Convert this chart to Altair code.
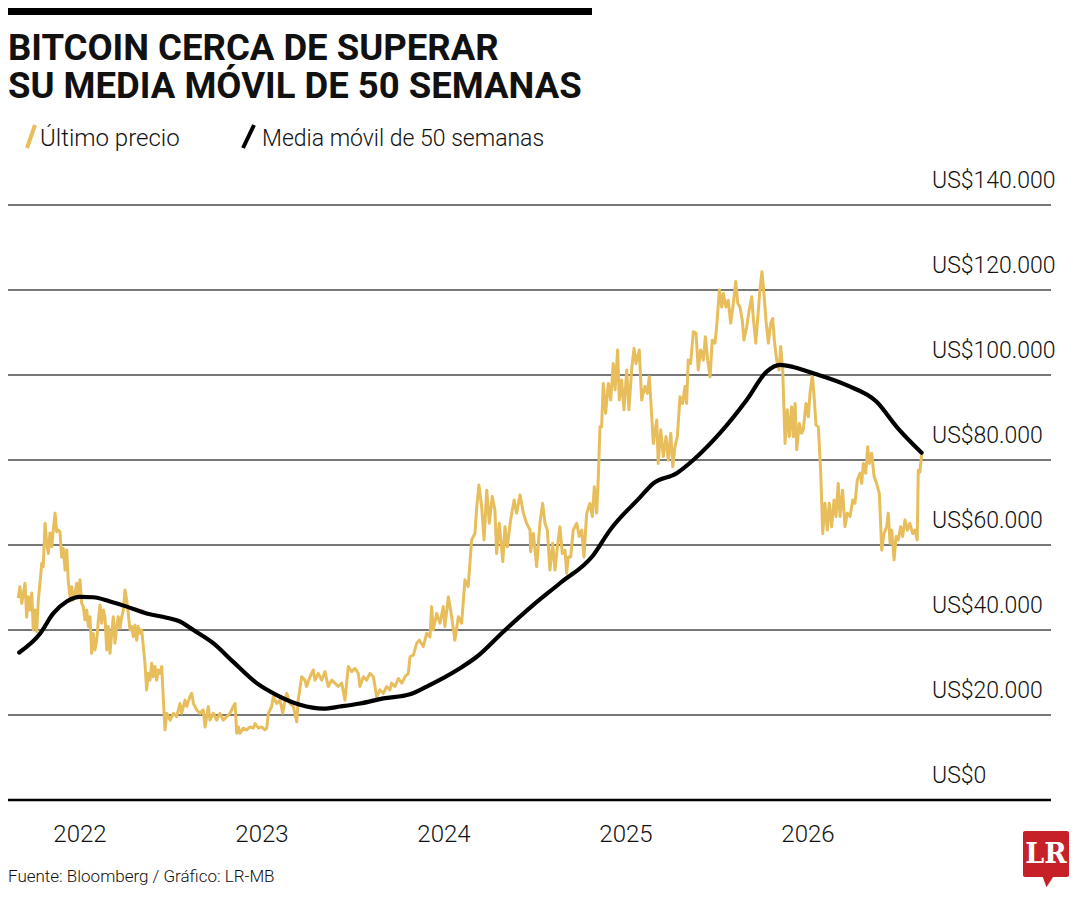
import altair as alt
import pandas as pd

# ---------------- data (decimal year, thousands of US$) ----------------
price_t = [
    2021.661, 2021.670, 2021.680, 2021.698, 2021.707, 2021.716, 2021.725, 2021.735, 2021.743,
    2021.753, 2021.762, 2021.771, 2021.780, 2021.790, 2021.798, 2021.808, 2021.817, 2021.826, 2021.835,
    2021.845, 2021.853, 2021.863, 2021.872, 2021.881, 2021.890, 2021.899, 2021.908, 2021.918, 2021.927,
    2021.936, 2021.945, 2021.954, 2021.963, 2021.973, 2021.982, 2021.991, 2022.000, 2022.009, 2022.018,
    2022.027, 2022.037, 2022.046, 2022.055, 2022.064, 2022.073, 2022.082, 2022.092, 2022.101, 2022.110,
    2022.119, 2022.128, 2022.137, 2022.147, 2022.155, 2022.165, 2022.174, 2022.183, 2022.192, 2022.202,
    2022.210, 2022.220, 2022.229, 2022.238, 2022.247, 2022.257, 2022.265, 2022.275, 2022.284, 2022.293,
    2022.302, 2022.312, 2022.320, 2022.330, 2022.339, 2022.348, 2022.357, 2022.366, 2022.375, 2022.385,
    2022.394, 2022.403, 2022.412, 2022.421, 2022.430, 2022.440, 2022.449, 2022.458, 2022.467, 2022.476,
    2022.495, 2022.513, 2022.531, 2022.549, 2022.558, 2022.577, 2022.586, 2022.604, 2022.614, 2022.623,
    2022.641, 2022.659, 2022.677, 2022.687, 2022.705, 2022.714, 2022.732, 2022.751, 2022.769, 2022.787,
    2022.806, 2022.824, 2022.842, 2022.852, 2022.861, 2022.870, 2022.879, 2022.897, 2022.916, 2022.934,
    2022.952, 2022.962, 2022.980, 2022.998, 2023.016, 2023.026, 2023.035, 2023.053, 2023.062, 2023.081,
    2023.099, 2023.114, 2023.126, 2023.136, 2023.154, 2023.172, 2023.191, 2023.199, 2023.218, 2023.236,
    2023.245, 2023.264, 2023.282, 2023.291, 2023.309, 2023.328, 2023.346, 2023.364, 2023.383, 2023.401,
    2023.419, 2023.438, 2023.456, 2023.474, 2023.493, 2023.511, 2023.529, 2023.538, 2023.557, 2023.575,
    2023.593, 2023.612, 2023.621, 2023.630, 2023.648, 2023.666, 2023.685, 2023.703, 2023.712, 2023.731,
    2023.749, 2023.768, 2023.786, 2023.804, 2023.813, 2023.832, 2023.850, 2023.864, 2023.886, 2023.905,
    2023.923, 2023.932, 2023.941, 2023.960, 2023.978, 2023.996, 2024.005, 2024.024, 2024.042, 2024.060,
    2024.079, 2024.097, 2024.115, 2024.133, 2024.152, 2024.170, 2024.180, 2024.192, 2024.207, 2024.220,
    2024.235, 2024.249, 2024.265, 2024.280, 2024.289, 2024.304, 2024.323, 2024.335, 2024.348, 2024.366,
    2024.385, 2024.399, 2024.418, 2024.436, 2024.454, 2024.473, 2024.476, 2024.491, 2024.509, 2024.527,
    2024.542, 2024.555, 2024.568, 2024.582, 2024.597, 2024.610, 2024.623, 2024.637, 2024.650, 2024.665,
    2024.674, 2024.683, 2024.696, 2024.710, 2024.729, 2024.743, 2024.757, 2024.769, 2024.784, 2024.802,
    2024.815, 2024.826, 2024.839, 2024.848, 2024.857, 2024.866, 2024.875, 2024.888, 2024.903, 2024.916,
    2024.930, 2024.940, 2024.954, 2024.963, 2024.976, 2024.989, 2025.004, 2025.016, 2025.031, 2025.044,
    2025.055, 2025.073, 2025.086, 2025.104, 2025.117, 2025.128, 2025.136, 2025.150, 2025.169, 2025.177,
    2025.191, 2025.205, 2025.220, 2025.232, 2025.246, 2025.257, 2025.269, 2025.282, 2025.297, 2025.311,
    2025.324, 2025.333, 2025.342, 2025.355, 2025.370, 2025.385, 2025.397, 2025.410, 2025.425, 2025.436,
    2025.449, 2025.462, 2025.474, 2025.489, 2025.498, 2025.513, 2025.526, 2025.535, 2025.549, 2025.562,
    2025.575, 2025.590, 2025.603, 2025.614, 2025.626, 2025.639, 2025.648, 2025.663, 2025.677, 2025.691,
    2025.699, 2025.713, 2025.723, 2025.736, 2025.747, 2025.758, 2025.769, 2025.782, 2025.795, 2025.806,
    2025.815, 2025.828, 2025.841, 2025.850, 2025.861, 2025.874, 2025.886, 2025.897, 2025.910, 2025.919,
    2025.929, 2025.938, 2025.952, 2025.965, 2025.974, 2025.989, 2026.002, 2026.011, 2026.024, 2026.035,
    2026.044, 2026.057, 2026.070, 2026.081, 2026.093, 2026.106, 2026.117, 2026.130, 2026.143, 2026.154,
    2026.166, 2026.176, 2026.190, 2026.203, 2026.216, 2026.231, 2026.246, 2026.258, 2026.271, 2026.286,
    2026.295, 2026.304, 2026.317, 2026.328, 2026.337, 2026.350, 2026.363, 2026.377, 2026.392, 2026.405,
    2026.418, 2026.432, 2026.441, 2026.451, 2026.460, 2026.473, 2026.484, 2026.496, 2026.509, 2026.520,
    2026.533, 2026.546, 2026.560, 2026.575, 2026.588, 2026.600, 2026.606, 2026.615, 2026.624,
]
price_v = [
    47.5, 50.2, 46.3, 51.0, 43.0, 47.8, 44.7, 48.7, 40.0,
    44.7, 39.6, 47.0, 51.0, 55.7, 54.9, 65.1, 60.4, 58.0, 62.8,
    59.6, 63.5, 67.5, 63.1, 63.5, 63.1, 57.2, 59.2, 54.1, 58.8,
    51.4, 47.8, 50.2, 47.0, 48.7, 51.0, 47.8, 51.8, 46.3, 45.5,
    42.4, 44.7, 40.8, 43.1, 34.5, 39.2, 35.3, 37.6, 42.4, 45.9,
    41.6, 44.7, 43.1, 35.3, 40.8, 34.5, 39.2, 43.1, 36.9, 40.8,
    43.1, 40.4, 43.1, 44.7, 49.4, 47.0, 43.9, 40.0, 40.8, 38.4,
    41.2, 37.6, 40.8, 39.2, 40.0, 36.1, 32.2, 25.9, 29.8, 28.2,
    32.2, 29.0, 31.4, 28.2, 30.6, 29.8, 31.4, 23.5, 16.5, 20.4,
    18.8, 20.4, 19.6, 22.7, 20.4, 23.5, 22.0, 24.3, 25.1, 22.7,
    21.2, 20.4, 21.2, 17.2, 22.0, 18.8, 20.4, 18.8, 20.4, 18.8,
    19.6, 20.4, 22.0, 22.7, 15.7, 17.2, 15.7, 16.9, 16.5, 17.2,
    16.9, 18.0, 16.9, 17.2, 16.5, 16.9, 20.4, 22.0, 24.3, 22.7,
    23.5, 20.4, 23.5, 25.1, 22.7, 22.0, 18.4, 23.5, 29.0, 28.2,
    26.7, 29.0, 30.6, 28.2, 29.8, 28.2, 30.2, 26.7, 28.2, 27.5,
    26.7, 27.5, 23.5, 31.4, 30.2, 31.0, 29.8, 26.7, 29.0, 28.2,
    29.8, 29.0, 26.7, 24.3, 25.9, 25.1, 26.7, 25.9, 27.5, 26.7,
    28.6, 27.5, 29.0, 29.8, 33.7, 34.1, 36.9, 37.6, 36.1, 39.2,
    38.4, 45.5, 40.0, 43.9, 41.6, 45.5, 40.8, 47.8, 43.1, 37.6,
    43.1, 41.6, 51.8, 50.2, 61.2, 62.7, 69.0, 74.1, 69.0, 61.2,
    72.9, 65.1, 71.4, 68.2, 58.0, 65.1, 56.1, 64.3, 59.6, 65.9,
    70.6, 67.5, 71.8, 67.5, 65.1, 63.5, 58.4, 62.7, 54.9, 65.1,
    69.8, 65.1, 63.5, 54.1, 60.4, 54.1, 59.6, 64.3, 58.0, 58.8,
    53.3, 57.2, 57.2, 63.5, 65.1, 62.0, 63.5, 57.2, 67.5, 69.8,
    66.7, 73.7, 67.5, 76.1, 87.8, 87.8, 98.0, 91.0, 98.0, 94.1,
    102.7, 96.5, 105.9, 94.1, 98.8, 91.8, 101.2, 91.8, 101.2, 106.3,
    102.7, 105.9, 94.1, 97.3, 95.7, 99.6, 94.1, 83.9, 89.4, 79.2,
    87.1, 80.8, 85.5, 80.0, 86.3, 78.4, 83.1, 85.5, 94.9, 93.3,
    97.3, 93.3, 103.5, 102.7, 110.2, 109.8, 101.2, 105.9, 103.5, 109.0,
    103.5, 99.6, 108.2, 107.5, 111.3, 120.0, 116.0, 119.2, 116.0, 117.6,
    112.2, 116.9, 122.0, 116.9, 116.0, 112.9, 108.2, 111.3, 115.3, 118.4,
    113.7, 107.5, 112.9, 120.0, 124.3, 119.2, 112.9, 107.5, 112.2, 113.3,
    108.2, 103.5, 101.2, 106.7, 101.2, 83.9, 91.8, 85.5, 92.5, 85.5,
    93.3, 82.4, 88.6, 86.3, 87.1, 93.3, 90.2, 95.7, 100.0, 94.1,
    88.2, 87.8, 76.9, 62.7, 69.8, 63.5, 69.8, 64.3, 70.6, 66.7,
    74.5, 66.7, 72.9, 64.3, 67.5, 66.7, 70.6, 69.8, 75.3, 76.9,
    74.5, 79.2, 76.9, 83.1, 79.2, 81.6, 76.1, 74.5, 72.1, 58.8,
    62.7, 64.3, 67.5, 60.4, 63.5, 56.5, 62.0, 61.2, 64.3, 62.0,
    65.9, 63.5, 65.1, 62.7, 63.5, 61.2, 77.6, 77.2, 81.2,
]

ma_t = [
    2021.666, 2021.780, 2021.853, 2021.927, 2022.000, 2022.073, 2022.165, 2022.257,
    2022.366, 2022.476, 2022.549, 2022.623, 2022.732, 2022.842, 2022.971, 2023.081,
    2023.209, 2023.337, 2023.429, 2023.538, 2023.666, 2023.813, 2023.905, 2024.088,
    2024.180, 2024.326, 2024.491, 2024.637, 2024.820, 2024.912, 2025.077, 2025.150,
    2025.279, 2025.370, 2025.516, 2025.663, 2025.773, 2025.846, 2025.919, 2026.029,
    2026.212, 2026.377, 2026.487, 2026.624,
]
ma_v = [
    34.7, 39.1, 43.9, 46.7, 47.8, 47.7, 46.7, 45.5,
    43.9, 42.9, 42.0, 40.0, 36.9, 32.5, 27.5, 24.7,
    22.4, 21.5, 22.0, 22.7, 23.9, 24.9, 26.7, 31.0,
    33.7, 39.6, 45.9, 51.0, 57.6, 63.5, 71.2, 74.5,
    76.9, 80.0, 86.3, 94.1, 100.8, 102.4, 101.9, 100.4,
    97.6, 93.7, 87.8, 81.7,
]

y_ticks = [0, 20, 40, 60, 80, 100, 120, 140]
y_labels = ["US$0", "US$20.000", "US$40.000", "US$60.000", "US$80.000",
            "US$100.000", "US$120.000", "US$140.000"]
year_ticks = [2022, 2023, 2024, 2025, 2026]
year_labels = ["2022", "2023", "2024", "2025", "2026"]

title_lines = ["BITCOIN CERCA DE SUPERAR", "SU MEDIA MÓVIL DE 50 SEMANAS"]
legend_1 = "Último precio"
legend_2 = "Media móvil de 50 semanas"
source = "Fuente: Bloomberg / Gráfico: LR-MB"

assert len(price_t) == len(price_v)
assert len(ma_t) == len(ma_v)

# ---------------- layout ----------------
W, H = 1043, 595
XDOM = [2021.6044, 2027.3352]
YDOM = [0, 140]
GOLD = "#E8BE5C"
BODY = "Roboto"
TITLE_FONT = "Roboto"

xs = alt.Scale(domain=XDOM, nice=False, zero=False)
ys = alt.Scale(domain=YDOM, nice=False, zero=False)

price_df = pd.DataFrame({"t": price_t, "v": price_v})
ma_df = pd.DataFrame({"t": ma_t, "v": ma_v})
ytick_df = pd.DataFrame({"v": y_ticks, "label": y_labels})
grid_df = ytick_df[ytick_df["v"] > 0]
zero_df = ytick_df[ytick_df["v"] == 0]
year_df = pd.DataFrame({"t": year_ticks, "label": year_labels})
one = alt.Data(values=[{}])

grid = alt.Chart(grid_df).mark_rule(color="#4a4a4a", strokeWidth=1.3).encode(
    y=alt.Y("v:Q", scale=ys, axis=None), x=alt.value(0), x2=alt.value(W)
)
price = alt.Chart(price_df).mark_line(color=GOLD, strokeWidth=3, strokeJoin="round").encode(
    x=alt.X("t:Q", scale=xs, axis=None), y=alt.Y("v:Q", scale=ys, axis=None)
)
ma = alt.Chart(ma_df).mark_line(color="#000000", strokeWidth=4.2, interpolate="monotone",
                                strokeCap="round").encode(
    x=alt.X("t:Q", scale=xs, axis=None), y=alt.Y("v:Q", scale=ys, axis=None)
)
zero_line = alt.Chart(zero_df).mark_rule(color="#000000", strokeWidth=2.5).encode(
    y=alt.Y("v:Q", scale=ys, axis=None), x=alt.value(0), x2=alt.value(W)
)
ylab = alt.Chart(ytick_df).mark_text(
    align="left", baseline="alphabetic", dy=-17, fontSize=23, font=BODY, fontWeight=300,
    color="#111111"
).encode(x=alt.value(924), y=alt.Y("v:Q", scale=ys, axis=None), text="label:N")
xlab = alt.Chart(year_df).mark_text(
    align="center", baseline="alphabetic", fontSize=24, font=BODY, fontWeight=300,
    color="#111111"
).encode(x=alt.X("t:Q", scale=xs, axis=None), y=alt.value(637), text="label:N")

def txt(s, x, y, size, font, weight="normal", color="#111111", align="left", lh=None):
    kw = {}
    if lh is not None:
        kw["lineHeight"] = lh
    return alt.Chart(one).mark_text(
        align=align, baseline="alphabetic", fontSize=size, font=font,
        fontWeight=weight, color=color, **kw
    ).encode(x=alt.value(x), y=alt.value(y), text=alt.value(s))

top_bar = alt.Chart(one).mark_rect(color="#000000").encode(
    x=alt.value(0), x2=alt.value(584), y=alt.value(-197), y2=alt.value(-190)
)
title = txt(title_lines, 0, -145, 36.5, TITLE_FONT, "bold", lh=38)
slash1 = alt.Chart(one).mark_rule(color=GOLD, strokeWidth=4).encode(
    x=alt.value(19), x2=alt.value(27), y=alt.value(-57), y2=alt.value(-80)
)
slash2 = alt.Chart(one).mark_rule(color="#000000", strokeWidth=4).encode(
    x=alt.value(235), x2=alt.value(246), y=alt.value(-57), y2=alt.value(-80)
)
l1 = txt(legend_1, 32, -59, 24, BODY, 300)
l2 = txt(legend_2, 254, -59, 23, BODY, 300)
src = txt(source, 0, 677, 17, BODY, 300)

logo_box = alt.Chart(one).mark_rect(color="#C62128", cornerRadius=2).encode(
    x=alt.value(1015), x2=alt.value(1061), y=alt.value(626), y2=alt.value(672)
)
logo_tail = alt.Chart(one).mark_point(
    shape="M -1 -1 L 1 -1 L -0.3 1 Z", filled=True, color="#C62128", opacity=1, size=110
).encode(x=alt.value(1040), y=alt.value(677))
logo_txt = alt.Chart(one).mark_text(
    align="center", baseline="middle", fontSize=27, font="DejaVu Serif", fontWeight="bold",
    color="#ffffff"
).encode(x=alt.value(1038), y=alt.value(650), text=alt.value("LR"))

chart = alt.layer(
    grid, price, ma, zero_line, ylab, xlab, top_bar, title, slash1, slash2, l1, l2, src,
    logo_box, logo_tail, logo_txt
).properties(
    width=W, height=H,
    autosize=alt.AutoSizeParams(type="none"),
    padding={"left": 0, "top": 197, "right": 18, "bottom": 90},
    background="#ffffff",
).configure_view(stroke="transparent")

chart.save("out.html", embed_options={"renderer": "svg", "actions": False})
